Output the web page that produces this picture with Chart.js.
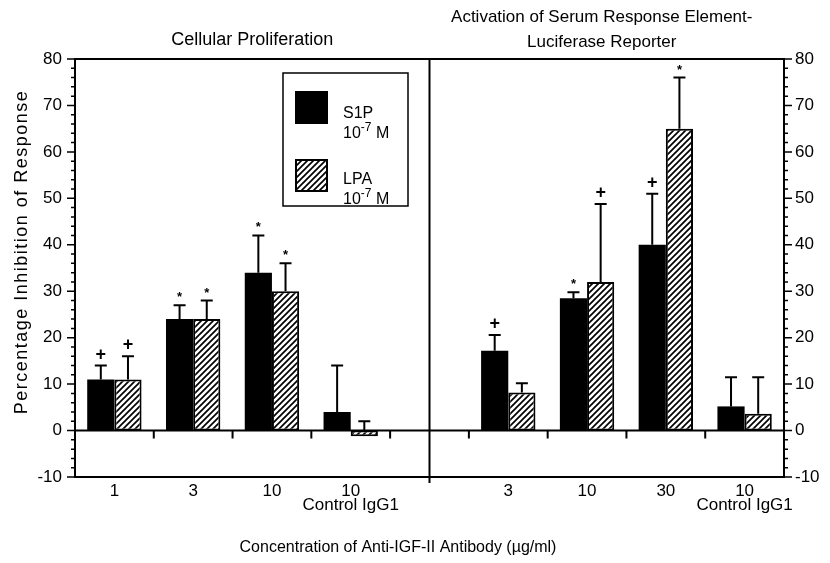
<!DOCTYPE html>
<html><head><meta charset="utf-8">
<script src="https://cdn.jsdelivr.net/npm/chart.js@4.4.1/dist/chart.umd.min.js"></script>
<style>html,body{margin:0;padding:0;background:#fff}</style>
</head><body>
<canvas id="c" width="830" height="563"></canvas>
<script>
// ---- data ----
const categories = ['1', '3', '10', ['10', 'Control IgG1'], '', '3', '10', '30', ['10', 'Control IgG1']];
const s1pValues = [11, 24, 34, 4, null, 17.2, 28.5, 40, 5.2];
const s1pErrTop = [14, 27, 42, 14, null, 20.6, 29.8, 51, 11.5];
const lpaValues = [11, 24, 30, -1.2, null, 8.2, 32, 65, 3.6];
const lpaErrTop = [16, 28, 36, 2, null, 10.2, 48.8, 76, 11.5];
const s1pMarks = ['+', '*', '*', '', '', '+', '*', '+', ''];
const lpaMarks = ['+', '*', '*', '', '', '', '+', '*', ''];
const seriesNames = ['S1P', 'LPA'];
const seriesConc = ['10', '10'];
const seriesExp = ['-7', '-7'];
const panelTitles = [['Cellular Proliferation'], ['Activation of Serum Response Element-', 'Luciferase Reporter']];
const yTitle = 'Percentage Inhibition of Response';
const xTitle = 'Concentration of Anti-IGF-II Antibody (\u00b5g/ml)';
const yMin = -10, yMax = 80, yMajor = 10, yMinor = 2;
const dividerIndex = 4;

const FONT = "'Liberation Sans', Arial, Helvetica, sans-serif";

// hatch pattern
function makeHatch() {
  const t = 6;
  const pc = document.createElement('canvas');
  pc.width = t; pc.height = t;
  const g = pc.getContext('2d');
  g.fillStyle = '#fff'; g.fillRect(0, 0, t, t);
  g.strokeStyle = '#000'; g.lineWidth = 1.7; g.lineCap = 'square';
  g.beginPath();
  g.moveTo(-1, t + 1); g.lineTo(t + 1, -1);
  g.moveTo(-1, 1); g.lineTo(1, -1);
  g.moveTo(t - 1, t + 1); g.lineTo(t + 1, t - 1);
  g.stroke();
  return document.getElementById('c').getContext('2d').createPattern(pc, 'repeat');
}
const hatch = makeHatch();

const errTops = [s1pErrTop, lpaErrTop];
const marks = [s1pMarks, lpaMarks];

const decor = {
  id: 'decor',
  afterDatasetsDraw(chart) {
    const ctx = chart.ctx;
    const ys = chart.scales.y;
    ctx.save();
    ctx.strokeStyle = '#000'; ctx.fillStyle = '#000';
    ctx.lineWidth = 2;
    chart.data.datasets.forEach((ds, di) => {
      const meta = chart.getDatasetMeta(di);
      meta.data.forEach((bar, i) => {
        const top = errTops[di][i];
        if (top == null || ds.data[i] == null) return;
        const x = bar.x;
        const yv = ys.getPixelForValue(Math.max(ds.data[i], 0));
        const yt = ys.getPixelForValue(top);
        ctx.beginPath();
        ctx.moveTo(x, yv); ctx.lineTo(x, yt);
        ctx.moveTo(x - 6, yt); ctx.lineTo(x + 6, yt);
        ctx.stroke();
        const m = marks[di][i];
        if (m) {
          ctx.textAlign = 'center';
          ctx.textBaseline = 'alphabetic';
          if (m === '+') {
            ctx.font = 'bold 18px ' + FONT;
            ctx.fillText('+', x, yt - 6);
          } else {
            ctx.font = 'bold 13px ' + FONT;
            ctx.fillText('*', x, yt - 4);
          }
        }
      });
    });
    ctx.restore();
  },
  afterDraw(chart) {
    const ctx = chart.ctx;
    const ca = chart.chartArea;
    const xs = chart.scales.x, ys = chart.scales.y;
    ctx.save();
    ctx.strokeStyle = '#000'; ctx.fillStyle = '#000';
    // frame
    ctx.lineWidth = 2;
    ctx.beginPath();
    ctx.moveTo(ca.left, ca.top); ctx.lineTo(ca.right, ca.top);
    ctx.moveTo(ca.left, ca.bottom); ctx.lineTo(ca.right, ca.bottom);
    ctx.moveTo(ca.left, ca.top - 1); ctx.lineTo(ca.left, ca.bottom + 1);
    ctx.moveTo(ca.right, ca.top - 1); ctx.lineTo(ca.right, ca.bottom + 1);
    const xd = xs.getPixelForValue(dividerIndex);
    ctx.moveTo(xd, ca.top); ctx.lineTo(xd, ca.bottom + 6);
    ctx.stroke();
    // zero line + boundary ticks
    const y0 = ys.getPixelForValue(0);
    ctx.beginPath();
    ctx.moveTo(ca.left, y0); ctx.lineTo(ca.right, y0);
    for (let i = 0; i < categories.length - 1; i++) {
      const xb = (xs.getPixelForValue(i) + xs.getPixelForValue(i + 1)) / 2;
      ctx.moveTo(xb, y0); ctx.lineTo(xb, y0 + 8);
    }
    ctx.stroke();
    // y ticks both sides
    ctx.lineWidth = 1.5;
    ctx.beginPath();
    for (let v = yMin; v <= yMax; v += yMinor) {
      const y = ys.getPixelForValue(v);
      const len = (v % yMajor === 0) ? 8 : 4;
      ctx.moveTo(ca.left - len, y); ctx.lineTo(ca.left, y);
      ctx.moveTo(ca.right, y); ctx.lineTo(ca.right + len, y);
    }
    ctx.stroke();

    // titles
    ctx.textAlign = 'center'; ctx.textBaseline = 'middle';
    const lc = (ca.left + xd) / 2;
    const rc = (xd + ca.right) / 2 - 5;
    ctx.font = '18px ' + FONT;
    ctx.fillText(panelTitles[0][0], lc, 40);
    ctx.font = '17px ' + FONT;
    ctx.fillText(panelTitles[1][0], rc, 17);
    ctx.fillText(panelTitles[1][1], rc, 42);
    // x title
    ctx.font = '16px ' + FONT;
    ctx.fillText(xTitle, 398, 548);
    // y title
    ctx.save();
    ctx.translate(22, 252);
    ctx.rotate(-Math.PI / 2);
    ctx.font = '18px ' + FONT;
    if ('letterSpacing' in ctx) ctx.letterSpacing = '1.5px';
    ctx.fillText(yTitle, 0, 0);
    ctx.restore();

    // legend
    ctx.lineWidth = 1.5;
    ctx.strokeRect(283, 73, 125, 133);
    ctx.fillStyle = '#000';
    ctx.fillRect(295, 91, 33, 33);
    ctx.fillStyle = hatch;
    ctx.fillRect(295, 159, 33, 33);
    ctx.lineWidth = 2;
    ctx.strokeRect(296, 160, 31, 31);
    ctx.fillStyle = '#000';
    ctx.textAlign = 'left'; ctx.textBaseline = 'alphabetic';
    const rows = [[343, 118], [343, 184]];
    rows.forEach((r, k) => {
      ctx.font = '16px ' + FONT;
      ctx.fillText(seriesNames[k], r[0], r[1]);
      const bx = r[0], by = r[1] + 20;
      ctx.fillText(seriesConc[k], bx, by);
      const w = ctx.measureText(seriesConc[k]).width;
      ctx.font = '12px ' + FONT;
      ctx.fillText(seriesExp[k], bx + w, by - 7);
      const w2 = ctx.measureText(seriesExp[k]).width;
      ctx.font = '16px ' + FONT;
      ctx.fillText(' M', bx + w + w2, by);
    });
    ctx.restore();
  }
};

new Chart(document.getElementById('c'), {
  type: 'bar',
  data: {
    labels: categories,
    datasets: [
      { label: seriesNames[0], data: s1pValues, backgroundColor: '#000', borderWidth: 0,
        categoryPercentage: 0.69, barPercentage: 1.0 },
      { label: seriesNames[1], data: lpaValues, backgroundColor: hatch, borderColor: '#000',
        borderWidth: 2, borderSkipped: false, categoryPercentage: 0.69, barPercentage: 1.0 }
    ]
  },
  options: {
    responsive: false, animation: false, devicePixelRatio: 1,
    layout: { padding: { top: 59, left: 0, right: 0, bottom: 0 } },
    plugins: { legend: { display: false }, tooltip: { enabled: false }, title: { display: false } },
    scales: {
      x: {
        offset: true,
        grid: { display: false }, border: { display: false },
        ticks: { color: '#000', font: { family: FONT, size: 17, lineHeight: 0.82 }, padding: -1, maxRotation: 0, autoSkip: false },
        afterFit(s) { s.height = 86; }
      },
      y: {
        position: 'left', min: yMin, max: yMax,
        grid: { display: false }, border: { display: false },
        ticks: { stepSize: yMajor, color: '#000', font: { family: FONT, size: 17 }, padding: 5 },
        afterFit(s) { s.width = 75; }
      },
      y2: {
        position: 'right', min: yMin, max: yMax,
        grid: { display: false }, border: { display: false },
        ticks: { stepSize: yMajor, color: '#000', font: { family: FONT, size: 17 }, padding: 3 },
        afterFit(s) { s.width = 46; }
      }
    }
  },
  plugins: [decor]
});
</script>
</body></html>
